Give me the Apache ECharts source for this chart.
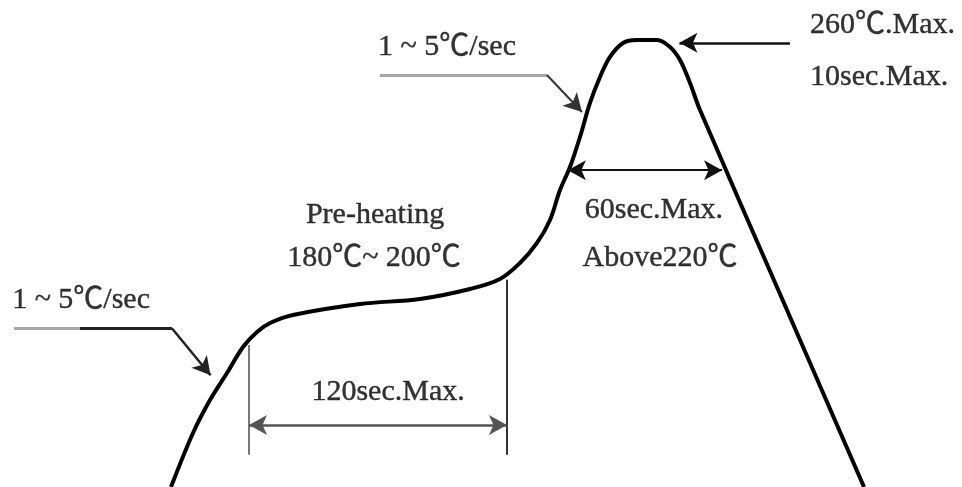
<!DOCTYPE html>
<html><head><meta charset="utf-8">
<script src="https://cdn.jsdelivr.net/npm/echarts@6/dist/echarts.min.js"></script>
<style>html,body{margin:0;padding:0;background:#fff}#c{width:962px;height:487px}</style>
</head><body><div id="c"></div>
<script>
// Reflow profile curve (time in s, temperature in °C)
const curveTime = [79.10, 89.28, 97.14, 105.01, 112.41, 118.88, 124.90, 135.54, 166.53, 194.28, 217.41, 231.29, 240.54, 248.40, 254.42, 259.04, 263.67, 268.29, 272.92, 277.55, 282.17, 288.19, 294.66, 303.91, 309.93, 314.55, 319.18, 323.80, 360.81, 399.67];
const curveTemp = [122.0, 138.65, 148.81, 157.12, 165.13, 169.75, 172.52, 174.99, 178.37, 179.91, 182.99, 186.07, 191.00, 197.16, 204.25, 213.48, 220.57, 229.81, 240.28, 248.29, 254.45, 258.76, 259.68, 259.68, 257.53, 253.52, 246.44, 238.12, 181.45, 122.0];

// Annotation labels
const labelText = ["1 ~ 5℃/sec", "1 ~ 5℃/sec", "260℃.Max.", "10sec.Max.", "60sec.Max.", "Above220℃", "Pre-heating", "180℃~ 200℃", "120sec.Max."];
const labelTime = [37.5, 206.8, 374.7, 374.7, 302.5, 305.3, 173.5, 173.0, 179.5];
const labelTemp = [179.6, 257.5, 264.3, 248.3, 207.3, 192.5, 205.8, 192.5, 151.3];
const labelAlign = ["center", "center", "left", "left", "center", "center", "center", "center", "center"];

// Annotation segments: [t1, T1, t2, T2, startSymbol, endSymbol, color, width]
const leaderSegments = [
  [6.5, 171.0, 37.0, 171.0, "none", "none", "#a6a6a6", 3],
  [37.0, 170.8, 79.6, 170.8, "none", "none", "#222", 3],
  [79.6, 170.8, 97.4, 156.4, "none", "arrow", "#222", 2.5],
  [175.8, 248.9, 253.0, 248.9, "none", "none", "#a6a6a6", 3],
  [253.0, 248.9, 269.2, 237.5, "none", "arrow", "#333", 2],
  [365.4, 258.8, 314.3, 258.8, "none", "arrow", "#111", 2.5],
  [262.7, 219.6, 334.0, 219.6, "arrow", "arrow", "#111", 2],
  [115.2, 165.7, 115.2, 131.9, "none", "none", "#777", 2],
  [234.5, 185.8, 234.5, 131.9, "none", "none", "#333", 2],
  [115.2, 141.1, 234.5, 141.1, "arrow", "arrow", "#555", 2.5]
];

const chart = echarts.init(document.getElementById('c'), null, {renderer: 'canvas'});
const curveData = curveTime.map((t, i) => [t, curveTemp[i]]);
const markData = leaderSegments.map(s => [
  {coord: [s[0], s[1]], symbol: s[4], lineStyle: {color: s[6], width: s[7], type: 'solid'}},
  {coord: [s[2], s[3]], symbol: s[5]}
]);
const labelData = labelText.map((txt, i) => ({
  value: [labelTime[i], labelTemp[i]], name: txt,
  label: {align: labelAlign[i]}
}));
const font = "'Liberation Serif', 'Times New Roman', 'Noto Sans CJK SC', serif";
chart.setOption({
  animation: false,
  backgroundColor: '#fff',
  grid: {left: 0, right: 0, top: 0, bottom: 0},
  xAxis: {type: 'value', min: 0, max: 445, show: false, splitLine: {show: false}},
  yAxis: {type: 'value', min: 122, max: 272, show: false, splitLine: {show: false}},
  series: [
    {
      type: 'line', data: curveData, smooth: 0.35, symbol: 'none',
      lineStyle: {color: '#000', width: 4}, silent: true, z: 3
    },
    {
      type: 'line', data: [], silent: true,
      markLine: {
        silent: true, animation: false, symbolSize: [15, 18],
        label: {show: false},
        lineStyle: {type: 'solid'},
        emphasis: {disabled: true},
        data: markData
      }
    },
    {
      type: 'scatter', data: labelData, symbolSize: 0, silent: true,
      label: {
        show: true, position: 'inside', formatter: '{b}',
        color: '#000', fontSize: 30, fontFamily: font, verticalAlign: 'middle',
        textBorderColor: '#000', textBorderWidth: 0.4
      }
    }
  ]
});
</script></body></html>
